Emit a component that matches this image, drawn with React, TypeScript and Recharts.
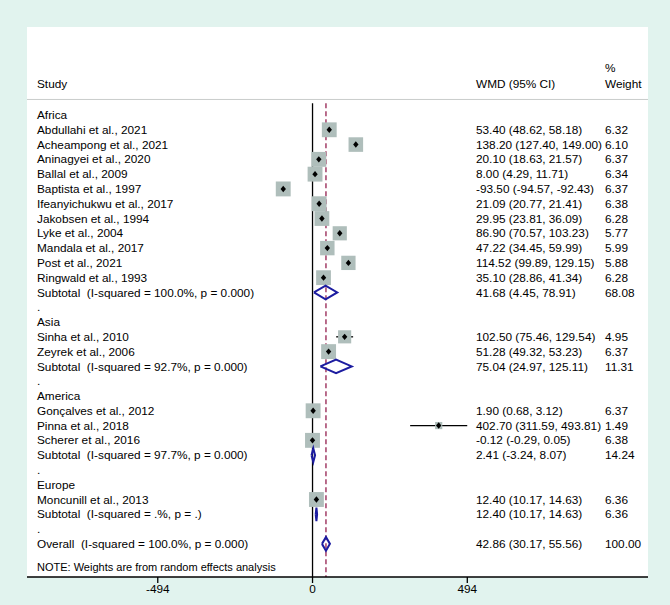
import {
  ComposedChart,
  XAxis,
  YAxis,
  Scatter,
  ErrorBar,
  ReferenceLine,
  CartesianGrid,
} from "recharts";

// one entry per row of the forest plot, top to bottom
const rowLabels = [
  "Africa",
  "Abdullahi et al., 2021",
  "Acheampong et al., 2021",
  "Aninagyei et al., 2020",
  "Ballal et al., 2009",
  "Baptista et al., 1997",
  "Ifeanyichukwu et al., 2017",
  "Jakobsen et al., 1994",
  "Lyke et al., 2004",
  "Mandala et al., 2017",
  "Post et al., 2021",
  "Ringwald et al., 1993",
  "Subtotal  (I-squared = 100.0%, p = 0.000)",
  ".",
  "Asia",
  "Sinha et al., 2010",
  "Zeyrek et al., 2006",
  "Subtotal  (I-squared = 92.7%, p = 0.000)",
  ".",
  "America",
  "Gonçalves et al., 2012",
  "Pinna et al., 2018",
  "Scherer et al., 2016",
  "Subtotal  (I-squared = 97.7%, p = 0.000)",
  ".",
  "Europe",
  "Moncunill et al., 2013",
  "Subtotal  (I-squared = .%, p = .)",
  ".",
  "Overall  (I-squared = 100.0%, p = 0.000)",
];

const wmd = [
  null, 53.4, 138.2, 20.1, 8.0, -93.5, 21.09, 29.95, 86.9, 47.22, 114.52, 35.1, 41.68, null,
  null, 102.5, 51.28, 75.04, null,
  null, 1.9, 402.7, -0.12, 2.41, null,
  null, 12.4, 12.4, null,
  42.86,
];
const ciLow = [
  null, 48.62, 127.4, 18.63, 4.29, -94.57, 20.77, 23.81, 70.57, 34.45, 99.89, 28.86, 4.45, null,
  null, 75.46, 49.32, 24.97, null,
  null, 0.68, 311.59, -0.29, -3.24, null,
  null, 10.17, 10.17, null,
  30.17,
];
const ciHigh = [
  null, 58.18, 149.0, 21.57, 11.71, -92.43, 21.41, 36.09, 103.23, 59.99, 129.15, 41.34, 78.91, null,
  null, 129.54, 53.23, 125.11, null,
  null, 3.12, 493.81, 0.05, 8.07, null,
  null, 14.63, 14.63, null,
  55.56,
];
const weights = [
  null, 6.32, 6.1, 6.37, 6.34, 6.37, 6.38, 6.28, 5.77, 5.99, 5.88, 6.28, 68.08, null,
  null, 4.95, 6.37, 11.31, null,
  null, 6.37, 1.49, 6.38, 14.24, null,
  null, 6.36, 6.36, null,
  100.0,
];

const xTicks = [-494, 0, 494];
const headStudy = "Study";
const headEffect = "WMD (95% CI)";
const headWeight = ["%", "Weight"];
const noteText = "NOTE: Weights are from random effects analysis";

// layout
const BG = "#e1f3ee";
const FONT = "'Liberation Sans', Arial, sans-serif";
const FS = 11.8;
const X_DOMAIN = [-911.4, 1070.8];
const Y_DOMAIN = [-5.95, 31.24];
const NOTE_ROW = 30.6;
const HEAD_ROWS = [-3.18, -2.1];
const HEAD_LINE = -1.05;
const LINE_TOP = -0.8;
const COL_STUDY = 37;
const COL_EFFECT = 476;
const COL_WEIGHT = 605;
const NAVY = "#1c1ca0";
const BOX = "#afbebb";

const isPooled = (i: number) =>
  rowLabels[i].startsWith("Subtotal") || rowLabels[i].startsWith("Overall");

const studies = rowLabels
  .map((_, i) => i)
  .filter((i) => wmd[i] !== null && !isPooled(i))
  .map((i) => ({
    x: wmd[i] as number,
    y: i,
    w: weights[i] as number,
    err: [(wmd[i] as number) - (ciLow[i] as number), (ciHigh[i] as number) - (wmd[i] as number)],
  }));

const pooled = rowLabels
  .map((_, i) => i)
  .filter((i) => wmd[i] !== null && isPooled(i))
  .map((i) => {
    const lo = ciLow[i] as number;
    const hi = ciHigh[i] as number;
    const est = wmd[i] as number;
    return [
      { x: lo, y: i },
      { x: est, y: i - 0.46 },
      { x: hi, y: i },
      { x: est, y: i + 0.46 },
      { x: lo, y: i },
    ];
  });

const overall = wmd[wmd.length - 1] as number;

const fmt = (i: number) =>
  wmd[i] === null
    ? ""
    : `${(wmd[i] as number).toFixed(2)} (${(ciLow[i] as number).toFixed(2)}, ${(ciHigh[i] as number).toFixed(2)})`;

const txt = { fontFamily: FONT, fontSize: FS, fill: "#000" } as const;

function RowTick(props: any) {
  const { y, payload } = props;
  const v = payload.value;
  if (v === NOTE_ROW) {
    return (
      <text x={COL_STUDY} y={y} dy="0.35em" {...txt} fontSize={11}>
        {noteText}
      </text>
    );
  }
  const i = Math.round(v);
  return (
    <g>
      <text x={COL_STUDY} y={y} dy="0.35em" {...txt} style={{ whiteSpace: "pre" }}>
        {rowLabels[i]}
      </text>
      <text x={COL_EFFECT} y={y} dy="0.35em" {...txt}>
        {fmt(i)}
      </text>
      <text x={COL_WEIGHT} y={y} dy="0.35em" {...txt}>
        {weights[i] === null ? "" : (weights[i] as number).toFixed(2)}
      </text>
    </g>
  );
}

function HeadTick(props: any) {
  const { y, payload } = props;
  if (payload.value === HEAD_ROWS[0]) {
    return (
      <text x={COL_WEIGHT} y={y} dy="0.35em" {...txt}>
        {headWeight[0]}
      </text>
    );
  }
  return (
    <g>
      <text x={COL_STUDY} y={y} dy="0.35em" {...txt}>
        {headStudy}
      </text>
      <text x={COL_EFFECT} y={y} dy="0.35em" {...txt}>
        {headEffect}
      </text>
      <text x={COL_WEIGHT} y={y} dy="0.35em" {...txt}>
        {headWeight[1]}
      </text>
    </g>
  );
}

const Box = (props: any) => {
  const { cx, cy, payload } = props;
  const s = 5.9 * Math.sqrt(payload.w);
  return <rect x={cx - s / 2} y={cy - s / 2} width={s} height={s} fill={BOX} />;
};

const Dot = (props: any) => {
  const { cx, cy } = props;
  return (
    <polygon
      points={`${cx - 2.7},${cy} ${cx},${cy - 3.2} ${cx + 2.7},${cy} ${cx},${cy + 3.2}`}
      fill="#000"
    />
  );
};

export default function App() {
  return (
    <div style={{ width: 670, height: 605, background: BG }}>
      <style>{`body{margin:0;background:${BG}}`}</style>
      <ComposedChart
        width={670}
        height={605}
        margin={{ top: 27, right: 21, left: 26, bottom: 6 }}
      >
        <CartesianGrid fill="#fff" horizontal={false} vertical={false} />
        <XAxis
          type="number"
          dataKey="x"
          domain={X_DOMAIN}
          allowDataOverflow
          ticks={xTicks}
          interval={0}
          height={22}
          axisLine={{ stroke: "#000", strokeWidth: 1.5 }}
          tickLine={{ stroke: "#000", strokeWidth: 1.3 }}
          tickSize={6}
          tick={{ fill: "#000", fontSize: FS, fontFamily: FONT }}
        />
        <YAxis
          type="number"
          dataKey="y"
          domain={Y_DOMAIN}
          allowDataOverflow
          reversed
          width={1}
          ticks={[...rowLabels.map((_, i) => i), NOTE_ROW]}
          interval={0}
          axisLine={false}
          tickLine={false}
          tick={<RowTick />}
        />
        <YAxis
          yAxisId="head"
          orientation="right"
          type="number"
          dataKey="y"
          domain={Y_DOMAIN}
          allowDataOverflow
          reversed
          width={1}
          ticks={HEAD_ROWS}
          interval={0}
          axisLine={false}
          tickLine={false}
          tick={<HeadTick />}
        />
        <ReferenceLine y={HEAD_LINE} stroke="#c9cccb" strokeWidth={1} ifOverflow="visible" />
        <ReferenceLine
          segment={[
            { x: 0, y: LINE_TOP },
            { x: 0, y: Y_DOMAIN[1] },
          ]}
          stroke="#000"
          strokeWidth={1.3}
        />
        <ReferenceLine
          segment={[
            { x: overall, y: LINE_TOP },
            { x: overall, y: Y_DOMAIN[1] },
          ]}
          stroke="#a23d66"
          strokeWidth={1.5}
          strokeDasharray="5 3"
        />
        <Scatter data={studies} shape={<Box />} isAnimationActive={false} />
        <Scatter data={studies} shape={<Dot />} isAnimationActive={false}>
          <ErrorBar dataKey="err" direction="x" width={0} stroke="#000" strokeWidth={1.3} />
        </Scatter>
        {pooled.map((pts, k) => (
          <Scatter
            key={k}
            data={pts}
            line={{ stroke: NAVY, strokeWidth: 2 }}
            shape={() => <g />}
            isAnimationActive={false}
          />
        ))}
      </ComposedChart>
    </div>
  );
}
